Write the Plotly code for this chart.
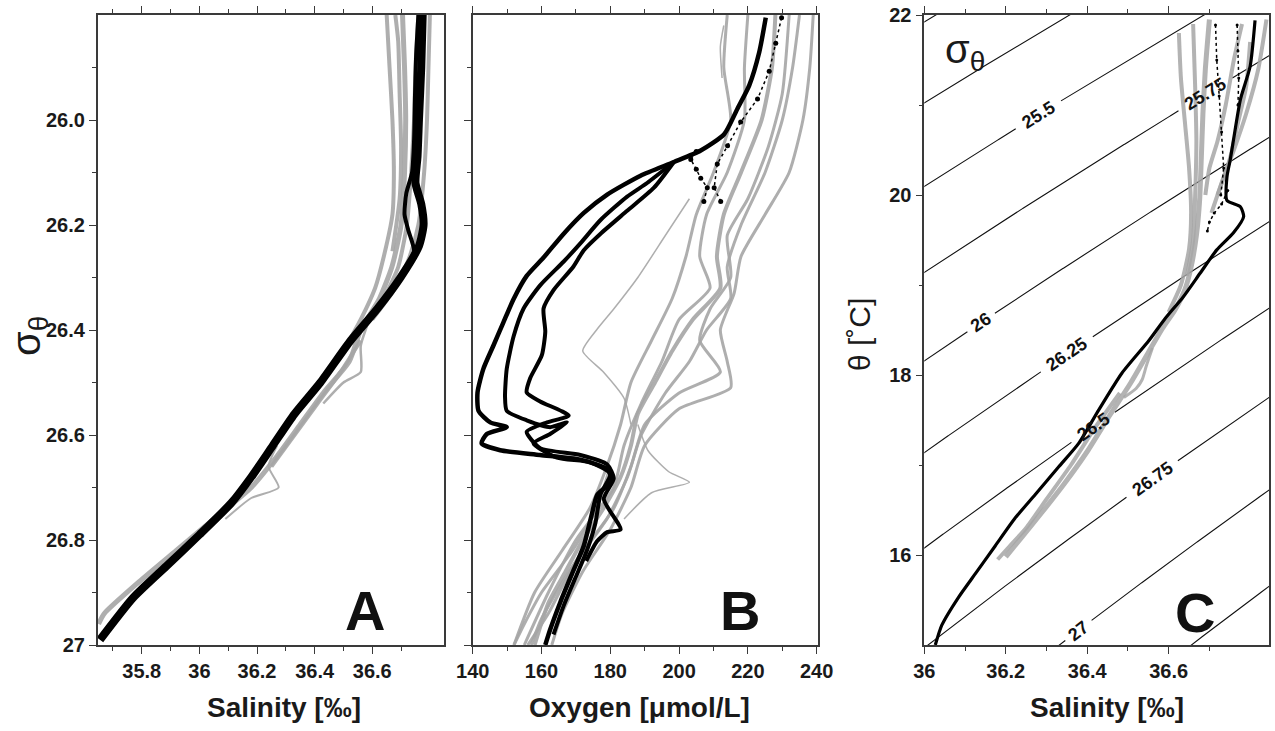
import numpy as np
import plotly.graph_objects as go

# ---------------- Panel A : Salinity vs sigma-theta ----------------
A_blk1_sig = [25.80, 25.90, 26.00, 26.07, 26.12, 26.16, 26.20, 26.24, 26.30, 26.36, 26.42, 26.50,
              26.56, 26.62, 26.68, 26.73, 26.79, 26.85, 26.91, 26.99]
A_blk1_sal = [36.775, 36.770, 36.762, 36.757, 36.750, 36.770, 36.778, 36.762, 36.698, 36.617, 36.525,
              36.420, 36.330, 36.255, 36.180, 36.110, 36.000, 35.885, 35.770, 35.655]
A_blk2_sig = [25.80, 25.88, 25.96, 26.04, 26.10, 26.14, 26.18, 26.21, 26.25, 26.30]
A_blk2_sal = [36.760, 36.752, 36.748, 36.745, 36.738, 36.718, 36.712, 36.725, 36.745, 36.700]

A_gry1_sig = [25.80, 25.90, 26.00, 26.10, 26.20, 26.28, 26.34, 26.40, 26.46, 26.52, 26.58, 26.64,
              26.70, 26.76, 26.82, 26.88, 26.94, 26.96]
A_gry1_sal = [36.705, 36.712, 36.716, 36.712, 36.700, 36.668, 36.625, 36.560, 36.520, 36.430, 36.350,
              36.270, 36.180, 36.050, 35.920, 35.790, 35.670, 35.650]
A_gry2_sig = [25.80, 25.90, 26.00, 26.10, 26.20, 26.26, 26.32, 26.38]
A_gry2_sal = [36.800, 36.795, 36.790, 36.780, 36.760, 36.730, 36.680, 36.600]
A_gry3_sig = [25.80, 25.90, 26.00, 26.10, 26.18, 26.26, 26.32, 26.38, 26.44]
A_gry3_sal = [36.650, 36.660, 36.670, 36.675, 36.670, 36.640, 36.610, 36.560, 36.500]
A_gry4_sig = [26.38, 26.43, 26.48, 26.50, 26.54]
A_gry4_sal = [36.590, 36.560, 36.560, 36.500, 36.430]
A_gry5_sig = [26.62, 26.66, 26.70, 26.72, 26.76]
A_gry5_sal = [36.270, 36.240, 36.275, 36.180, 36.090]
A_gry6_sig = [26.42, 26.48, 26.54, 26.60, 26.66]
A_gry6_sal = [36.560, 36.490, 36.410, 36.330, 36.250]
A_gry7_sig = [25.80, 25.90, 26.00, 26.10, 26.20, 26.28, 26.34]
A_gry7_sal = [36.760, 36.750, 36.745, 36.735, 36.720, 36.690, 36.640]
A_gry8_sig = [25.80, 25.85, 25.95, 26.05, 26.15, 26.25]
A_gry8_sal = [36.680, 36.690, 36.695, 36.700, 36.695, 36.670]

A_xticks = [35.8, 36.0, 36.2, 36.4, 36.6]
A_xlabels = ["35.8", "36", "36.2", "36.4", "36.6"]
A_xtick_unlabeled = [36.8]
A_xminor = [35.7, 35.9, 36.1, 36.3, 36.5, 36.7]
SIG_ticks = [26.0, 26.2, 26.4, 26.6, 26.8, 27.0]
SIG_labels = ["26.0", "26.2", "26.4", "26.6", "26.8", "27"]
SIG_minor = [25.9, 26.1, 26.3, 26.5, 26.7, 26.9]

# ---------------- Panel B : Oxygen vs sigma-theta ----------------
B_blk1_sig = [25.805, 25.871, 25.934, 25.978, 26.027, 26.058, 26.080, 26.106, 26.142, 26.177, 26.217,
              26.262, 26.297, 26.341, 26.386, 26.430, 26.474, 26.519, 26.554, 26.576, 26.585, 26.598,
              26.616, 26.629, 26.638, 26.647, 26.665, 26.687, 26.714, 26.749, 26.811, 26.864, 26.918,
              26.971, 27.0]
B_blk1_oxy = [225.2, 223.3, 220.4, 217.0, 213.1, 206.3, 198.5, 188.8, 179.1, 172.3, 166.4,
              160.6, 155.7, 151.9, 148.9, 146.0, 143.1, 141.4, 141.7, 145.1, 149.9, 144.1,
              142.6, 148.0, 159.6, 171.3, 179.1, 180.5, 176.2, 174.7, 172.3, 168.9, 165.5,
              162.5, 161.1]
B_blk2_sig = [26.080, 26.120, 26.146, 26.191, 26.235, 26.270, 26.315, 26.359, 26.412, 26.474, 26.527,
              26.554, 26.572, 26.585, 26.576, 26.598, 26.616, 26.643, 26.652, 26.674, 26.714, 26.767,
              26.820, 26.873, 26.926, 26.980]
B_blk2_oxy = [198.5, 190.7, 184.9, 177.1, 171.3, 166.4, 159.6, 154.8, 151.9, 149.9, 149.4,
              149.9, 155.7, 162.5, 167.4, 162.5, 157.7, 164.5, 174.2, 180.0, 177.1, 175.7,
              173.2, 169.8, 166.4, 163.5]
B_blk3_sig = [26.080, 26.129, 26.173, 26.217, 26.248, 26.279, 26.324, 26.359, 26.403, 26.448, 26.492,
              26.519, 26.536, 26.563, 26.576, 26.594, 26.625, 26.638, 26.656, 26.683, 26.722, 26.780,
              26.785, 26.802, 26.840]
B_blk3_oxy = [198.5, 192.7, 184.9, 177.1, 172.3, 169.3, 163.5, 160.6, 161.1, 160.1, 156.7,
              155.7, 159.6, 167.9, 161.6, 155.7, 159.6, 171.3, 179.1, 181.0, 178.1, 183.0,
              179.1, 176.2, 173.0]
B_blk4_sig = [25.805, 25.854, 25.907, 25.960, 26.004, 26.049, 26.084, 26.129, 26.155]
B_blk4_oxy = [229.8, 228.1, 226.2, 222.8, 217.9, 214.1, 211.1, 210.2, 212.1]
B_blk5_sig = [26.060, 26.075, 26.094, 26.111, 26.129, 26.155]
B_blk5_oxy = [205.0, 203.4, 205.0, 206.3, 208.2, 207.2]

B_gry1_sig = [25.80, 25.90, 26.00, 26.10, 26.18, 26.26, 26.32, 26.38, 26.44, 26.50, 26.56, 26.62,
              26.68, 26.74, 26.80, 26.86, 26.92, 27.00]
B_gry1_oxy = [228, 227, 224, 218, 213, 211, 212, 204, 198, 193, 188, 186, 183, 178, 172, 167, 162, 158]
B_gry2_sig = [25.80, 25.90, 26.00, 26.10, 26.18, 26.26, 26.33, 26.40, 26.46, 26.51, 26.55, 26.62,
              26.70, 26.78, 26.86, 26.94, 27.00]
B_gry2_oxy = [239, 238, 236, 232, 225, 218, 216, 212, 214, 215, 200, 190, 186, 180, 172, 166, 163]
B_gry3_sig = [25.80, 25.90, 26.00, 26.10, 26.18, 26.26, 26.34, 26.42, 26.50, 26.58, 26.66, 26.74,
              26.82, 26.90, 27.00]
B_gry3_oxy = [214, 213, 215, 210, 205, 202, 198, 192, 186, 183, 179, 174, 166, 158, 152]
B_gry4_sig = [26.15, 26.22, 26.30, 26.36, 26.40, 26.44, 26.48, 26.53, 26.58]
B_gry4_oxy = [203, 196, 188, 181, 176, 172, 178, 184, 186]
B_gry5_sig = [26.58, 26.63, 26.67, 26.69, 26.71, 26.76]
B_gry5_oxy = [188, 191, 197, 203, 192, 184]
B_gry6_sig = [25.80, 25.95, 26.05, 26.15, 26.22, 26.30, 26.36, 26.42, 26.48, 26.52, 26.58, 26.66,
              26.74, 26.84, 26.94, 27.00]
B_gry6_oxy = [232, 230, 226, 220, 214, 215, 209, 206, 212, 200, 190, 186, 181, 170, 162, 156]
B_gry7_sig = [25.82, 25.86, 25.92]
B_gry7_oxy = [213, 212, 212.5]
B_gry8_sig = [25.80, 25.90, 26.00, 26.10, 26.20, 26.28, 26.34, 26.40, 26.46, 26.52, 26.60, 26.68,
              26.76, 26.86, 26.95, 27.00]
B_gry8_oxy = [235, 233, 230, 225, 218, 214, 215, 208, 203, 196, 189, 185, 179, 168, 160, 157]
B_gry9_sig = [25.80, 25.90, 26.00, 26.10, 26.18, 26.26, 26.32, 26.38, 26.46, 26.54, 26.62, 26.70,
              26.80, 26.90, 27.00]
B_gry9_oxy = [220, 219, 219, 214, 208, 206, 209, 200, 195, 189, 184, 181, 170, 162, 155]
B_gry10_sig = [26.66, 26.74, 26.82, 26.90, 26.96, 27.00]
B_gry10_oxy = [180, 176, 169, 160, 155, 152]

B_xticks = [140, 160, 180, 200, 220, 240]
B_xlabels = ["140", "160", "180", "200", "220", "240"]
B_xminor = [150, 170, 190, 210, 230]

# ---------------- Panel C : theta vs Salinity ----------------
C_blk1_sal = [36.812, 36.800, 36.776, 36.759, 36.751, 36.743, 36.743, 36.776, 36.784, 36.759, 36.718,
              36.677, 36.636, 36.590, 36.551, 36.485, 36.428, 36.379, 36.330, 36.272, 36.223, 36.174,
              36.125, 36.084, 36.043, 36.027]
C_blk1_tht = [21.94, 21.43, 21.06, 20.61, 20.39, 20.20, 19.94, 19.87, 19.76, 19.58, 19.39,
              19.13, 18.87, 18.62, 18.38, 18.02, 17.61, 17.24, 16.98, 16.67, 16.41, 16.10,
              15.79, 15.53, 15.22, 15.00]
C_blk2_sal = [36.715, 36.718, 36.724, 36.730, 36.735, 36.728]
C_blk2_tht = [21.89, 21.50, 21.10, 20.70, 20.30, 20.00]
C_blk3_sal = [36.768, 36.770, 36.772, 36.770]
C_blk3_tht = [21.89, 21.60, 21.30, 21.00]
C_blk4_sal = [36.745, 36.730, 36.712, 36.700, 36.695]
C_blk4_tht = [20.05, 19.90, 19.80, 19.70, 19.60]

C_gry1_sal = [36.700, 36.690, 36.684, 36.680, 36.676, 36.668, 36.655, 36.640, 36.615, 36.585, 36.550,
              36.505, 36.455, 36.400, 36.345, 36.290, 36.240, 36.200]
C_gry1_tht = [21.95, 21.40, 20.90, 20.40, 19.95, 19.55, 19.20, 18.95, 18.72, 18.52, 18.25,
              17.90, 17.55, 17.15, 16.80, 16.48, 16.20, 15.98]
C_gry2_sal = [36.840, 36.820, 36.790, 36.760, 36.735, 36.705]
C_gry2_tht = [21.95, 21.40, 20.90, 20.50, 20.20, 19.80]
C_gry3_sal = [36.625, 36.630, 36.640, 36.650, 36.655, 36.650, 36.630, 36.600]
C_gry3_tht = [21.80, 21.30, 20.80, 20.30, 19.80, 19.40, 19.00, 18.70]
C_gry4_sal = [36.560, 36.545, 36.535, 36.520, 36.490]
C_gry4_tht = [18.30, 18.10, 17.95, 17.85, 17.75]
C_gry5_sal = [36.480, 36.420, 36.360, 36.300, 36.250, 36.210, 36.180]
C_gry5_tht = [17.80, 17.42, 17.00, 16.62, 16.30, 16.10, 15.95]
C_gry6_sal = [36.78, 36.76, 36.74, 36.72, 36.70, 36.69]
C_gry6_tht = [21.9, 21.5, 21.0, 20.6, 20.3, 20.0]
C_gry7_sal = [36.80, 36.79, 36.77, 36.75, 36.72]
C_gry7_tht = [21.7, 21.2, 20.8, 20.4, 20.0]
C_gry8_sal = [36.660, 36.665, 36.668, 36.665, 36.660, 36.645]
C_gry8_tht = [21.9, 21.2, 20.6, 20.0, 19.5, 19.1]

C_xticks = [36.0, 36.2, 36.4, 36.6]
C_xlabels = ["36", "36.2", "36.4", "36.6"]
C_xtick_unlabeled = [36.8]
C_xminor = [36.1, 36.3, 36.5, 36.7]
C_yticks = [16, 18, 20, 22]
C_yminor = [17, 19, 21]

SIG_levels = [25.0, 25.25, 25.5, 25.75, 26.0, 26.25, 26.5, 26.75, 27.0, 27.25]
SIG_label_levels = [25.5, 25.75, 26.0, 26.25, 26.5, 26.75, 27.0]
SIG_label_text = ["25.5", "25.75", "26", "26.25", "26.5", "26.75", "27"]
SIG_label_at_sal = [36.28, 36.69, 36.14, 36.35, 36.415, 36.56, 36.378]   # where each label sits


# ---- seawater density (UNESCO 1983, surface pressure) for isopycnals ----
def sigma0(S, T):
    rw = (999.842594 + 6.793952e-2 * T - 9.095290e-3 * T**2 + 1.001685e-4 * T**3
          - 1.120083e-6 * T**4 + 6.536332e-9 * T**5)
    A = 8.24493e-1 - 4.0899e-3 * T + 7.6438e-5 * T**2 - 8.2467e-7 * T**3 + 5.3875e-9 * T**4
    B = -5.72466e-3 + 1.0227e-4 * T - 1.6546e-6 * T**2
    C = 4.8314e-4
    return rw + A * S + B * S**1.5 + C * S**2 - 1000.0


def theta_on(level, S):
    S = np.asarray(S, dtype=float)
    lo = np.full_like(S, 0.0)
    hi = np.full_like(S, 35.0)
    for _ in range(60):
        mid = 0.5 * (lo + hi)
        f = sigma0(S, mid) - level
        lo = np.where(f > 0, mid, lo)
        hi = np.where(f > 0, hi, mid)
    return 0.5 * (lo + hi)


# ---------------- figure ----------------
W, H = 1275, 731
FONT = "Liberation Sans, Arial, Helvetica, sans-serif"
GRAY = "#a6a6a6"
BLACK = "#000000"
AXC = "#3a3a3a"
fig = go.Figure()

DOM_A = [97.7 / W, 444.3 / W]
DOM_B = [472.7 / W, 817.7 / W]
DOM_C = [924.3 / W, 1269.3 / W]
RNG_A_X, RNG_SIG = [35.647, 36.85], [27.0, 25.8]
RNG_B_X = [140, 240.3]
RNG_C_X, RNG_C_Y = [36.0, 36.847], [15.0, 22.0]
PLOT_H = 630.0
LABEL_SIZE = 18


def line(x, y, ax, color, width, opacity=1.0):
    xa, ya = ax
    fig.add_trace(go.Scatter(x=x, y=y, xaxis=xa, yaxis=ya, mode="lines",
                             line=dict(color=color, width=width, shape="spline", smoothing=0.6),
                             opacity=opacity, showlegend=False, hoverinfo="skip"))


def dots(x, y, ax, color, size):
    xa, ya = ax
    fig.add_trace(go.Scatter(x=x, y=y, xaxis=xa, yaxis=ya, mode="markers+lines",
                             line=dict(color=color, width=1.5, dash="dot"),
                             marker=dict(color=color, size=size), showlegend=False, hoverinfo="skip"))


# ---- Panel C isopycnals (computed from equation of state), with gaps for labels
px_per_S = (DOM_C[1] - DOM_C[0]) * W / (RNG_C_X[1] - RNG_C_X[0])
px_per_T = PLOT_H / (RNG_C_Y[1] - RNG_C_Y[0])
S_line = np.linspace(35.9, 36.95, 700)
label_ann = []
for lev in SIG_levels:
    T_line = theta_on(lev, S_line)
    if lev in SIG_label_levels:
        k = SIG_label_levels.index(lev)
        sL = SIG_label_at_sal[k]
        tL = float(theta_on(lev, [sL])[0])
        dTdS = float((theta_on(lev, [sL + 0.001])[0] - theta_on(lev, [sL - 0.001])[0]) / 0.002)
        ang = np.arctan(dTdS * px_per_T / px_per_S)
        half_px = len(SIG_label_text[k]) * 0.56 * LABEL_SIZE / 2 + 6
        dS = half_px * np.cos(ang) / px_per_S
        T_line = np.where(np.abs(S_line - sL) < dS, np.nan, T_line)
        label_ann.append(dict(text=SIG_label_text[k], x=sL, y=tL, xref="x3", yref="y3",
                              textangle=-np.degrees(ang), showarrow=False,
                              xanchor="center", yanchor="middle",
                              font=dict(family=FONT, size=LABEL_SIZE, color="#111111", weight="bold")))
    fig.add_trace(go.Scatter(x=S_line, y=T_line, xaxis="x3", yaxis="y3", mode="lines",
                             line=dict(color="#111111", width=1.1), connectgaps=False,
                             showlegend=False, hoverinfo="skip"))

AX_A, AX_B, AX_C = ("x", "y"), ("x2", "y2"), ("x3", "y3")

# Panel A
for xs, ys, w in [(A_gry2_sal, A_gry2_sig, 4), (A_gry3_sal, A_gry3_sig, 4), (A_gry7_sal, A_gry7_sig, 4),
                  (A_gry8_sal, A_gry8_sig, 4), (A_gry1_sal, A_gry1_sig, 5),
                  (A_gry4_sal, A_gry4_sig, 2.5), (A_gry5_sal, A_gry5_sig, 2), (A_gry6_sal, A_gry6_sig, 4)]:
    line(xs, ys, AX_A, GRAY, w, 0.9)
line(A_blk2_sal, A_blk2_sig, AX_A, BLACK, 4)
line(A_blk1_sal, A_blk1_sig, AX_A, BLACK, 8)

# Panel B
for xs, ys, w in [(B_gry2_oxy, B_gry2_sig, 3), (B_gry3_oxy, B_gry3_sig, 3), (B_gry6_oxy, B_gry6_sig, 3),
                  (B_gry8_oxy, B_gry8_sig, 3), (B_gry9_oxy, B_gry9_sig, 3), (B_gry10_oxy, B_gry10_sig, 3),
                  (B_gry1_oxy, B_gry1_sig, 4), (B_gry4_oxy, B_gry4_sig, 1.5), (B_gry5_oxy, B_gry5_sig, 1.5),
                  (B_gry7_oxy, B_gry7_sig, 1.5)]:
    line(xs, ys, AX_B, GRAY, w, 0.9)
line(B_blk1_oxy, B_blk1_sig, AX_B, BLACK, 4.5)
line(B_blk2_oxy, B_blk2_sig, AX_B, BLACK, 4)
line(B_blk3_oxy, B_blk3_sig, AX_B, BLACK, 4)
dots(B_blk4_oxy, B_blk4_sig, AX_B, BLACK, 5)
dots(B_blk5_oxy, B_blk5_sig, AX_B, BLACK, 5)

# Panel C
for xs, ys, w in [(C_gry2_sal, C_gry2_tht, 4), (C_gry3_sal, C_gry3_tht, 4), (C_gry6_sal, C_gry6_tht, 4),
                  (C_gry7_sal, C_gry7_tht, 4), (C_gry8_sal, C_gry8_tht, 4),
                  (C_gry1_sal, C_gry1_tht, 5), (C_gry4_sal, C_gry4_tht, 3), (C_gry5_sal, C_gry5_tht, 4)]:
    line(xs, ys, AX_C, GRAY, w, 0.85)
dots(C_blk2_sal, C_blk2_tht, AX_C, BLACK, 3)
dots(C_blk3_sal, C_blk3_tht, AX_C, BLACK, 3)
dots(C_blk4_sal, C_blk4_tht, AX_C, BLACK, 3)
line(C_blk1_sal, C_blk1_tht, AX_C, BLACK, 3.2)

TICKFONT = dict(family=FONT, size=20, color="#1a1a1a", weight="bold")
common = dict(showgrid=False, zeroline=False, ticks="outside", ticklen=7, tickwidth=1.3,
              tickcolor=AXC, tickfont=TICKFONT, automargin=False)


def xax(dom, rng, vals, labels, minor, anchor):
    return dict(domain=dom, range=rng, tickmode="array", tickvals=vals, ticktext=labels, mirror="ticks",
                anchor=anchor, showline=True, linecolor=AXC, linewidth=1.6,
                minor=dict(tickmode="array", tickvals=minor, ticks="outside", ticklen=4,
                           tickcolor=AXC, showgrid=False), **common)


def xax_extra(dom, rng, vals, anchor, over):
    # extra unlabeled major tick(s)
    return dict(domain=dom, range=rng, tickmode="array", tickvals=vals, showticklabels=False,
                mirror="ticks", anchor=anchor, overlaying=over, side="bottom",
                showline=True, linecolor=AXC, linewidth=1.6, **common)


def yax(rng, vals, labels, minor, anchor, show=True):
    return dict(range=rng, tickmode="array", tickvals=vals, ticktext=labels, mirror=True,
                anchor=anchor, showticklabels=show, showline=True, linecolor=AXC, linewidth=1.6,
                minor=dict(tickmode="array", tickvals=minor, ticks="outside", ticklen=4,
                           tickcolor=AXC, showgrid=False), **common)


fig.update_layout(
    width=W, height=H, margin=dict(l=0, r=0, t=15, b=86),
    paper_bgcolor="white", plot_bgcolor="white",
    xaxis=xax(DOM_A, RNG_A_X, A_xticks, A_xlabels, A_xminor, "y"),
    yaxis=yax(RNG_SIG, SIG_ticks, SIG_labels, SIG_minor, "x"),
    xaxis2=xax(DOM_B, RNG_B_X, B_xticks, B_xlabels, B_xminor, "y2"),
    yaxis2=yax(RNG_SIG, SIG_ticks, SIG_labels, SIG_minor, "x2", show=False),
    xaxis3=xax(DOM_C, RNG_C_X, C_xticks, C_xlabels, C_xminor, "y3"),
    yaxis3=yax(RNG_C_Y, C_yticks, [str(v) for v in C_yticks], C_yminor, "x3"),
    xaxis4=xax_extra(DOM_A, RNG_A_X, A_xtick_unlabeled, "y", "x"),
    xaxis5=xax_extra(DOM_C, RNG_C_X, C_xtick_unlabeled, "y3", "x3"),
)


def py(ypix):
    return (645.0 - ypix) / PLOT_H


TITLE = dict(family=FONT, size=28, color="#1a1a1a", weight="bold")
LETTER = dict(family=FONT, size=56, color="#111111", weight="bold")
ann = [
    dict(text="Salinity [‰]", x=284 / W, y=py(707), font=TITLE),
    dict(text="Oxygen [μmol/L]", x=639 / W, y=py(707), font=TITLE),
    dict(text="Salinity [‰]", x=1107 / W, y=py(707), font=TITLE),
    dict(text="σ<sub>θ</sub>", x=29 / W, y=py(336), textangle=-90,
         font=dict(family=FONT, size=40, color="#1a1a1a")),
    dict(text="θ [˚C]", x=859 / W, y=py(335), textangle=-90,
         font=dict(family=FONT, size=30, color="#1a1a1a")),
    dict(text="A", x=365 / W, y=py(610), font=LETTER),
    dict(text="B", x=740 / W, y=py(610), font=LETTER),
    dict(text="C", x=1195 / W, y=py(612), font=LETTER),
    dict(text="σ<sub>θ</sub>", x=965 / W, y=py(52), font=dict(family=FONT, size=40, color="#1a1a1a")),
]
for a in ann:
    a.update(xref="paper", yref="paper", showarrow=False, xanchor="center", yanchor="middle")
fig.update_layout(annotations=ann + label_ann)

fig.write_html("out.html")
